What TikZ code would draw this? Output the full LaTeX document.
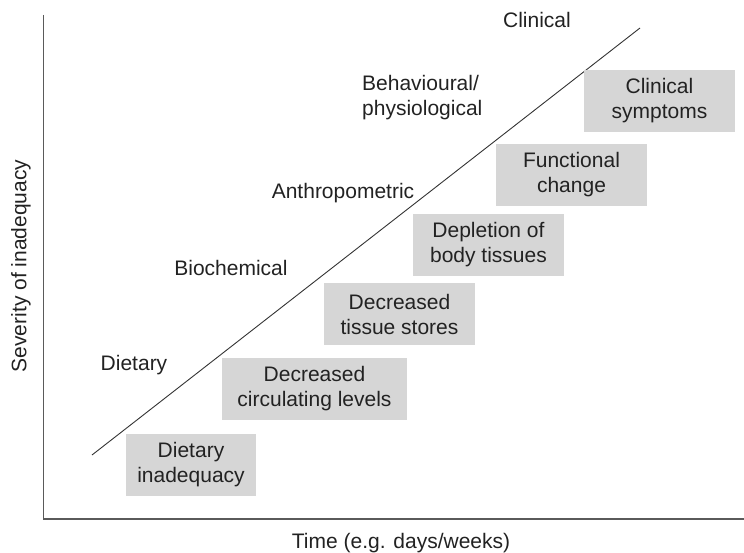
\documentclass[tikz,border=0pt]{standalone}
\usepackage{fontspec}
\setmainfont{Liberation Sans}
\definecolor{txt}{HTML}{222222}
\definecolor{boxfill}{HTML}{D6D6D6}
\definecolor{axis}{HTML}{5A5A5A}
\definecolor{diag}{HTML}{333333}
\tikzset{
  stage/.style={fill=boxfill, minimum height=62pt, inner sep=0pt, align=center, text=txt, font=\fontsize{21}{25}\selectfont},
  lbl/.style={text=txt, inner sep=0pt, font=\fontsize{21}{25}\selectfont},
}
\begin{document}
\begin{tikzpicture}[x=1pt,y=-1pt]
\useasboundingbox (0,0) rectangle (744,553);
% axes
\coordinate (ytop) at (43.5,15);
\coordinate (orig) at (43.5,519);
\coordinate (xend) at (744,519);
\draw[axis, line width=1.2pt] (ytop) -- (orig) -- (xend);
% diagonal
\coordinate (d1) at (92,455);
\coordinate (d2) at (640,28);
\draw[diag, line width=0.9pt] (d1) -- (d2);
% boxes
\node[stage, minimum width=130pt] (b1) at (191,465) {Dietary\\inadequacy};
\node[stage, minimum width=185pt] (b2) at (314.5,389) {Decreased\\circulating levels};
\node[stage, minimum width=151pt] (b3) at (399.5,314) {Decreased\\tissue stores};
\node[stage, minimum width=151pt] (b4) at (488.5,245) {Depletion of\\body tissues};
\node[stage, minimum width=151pt] (b5) at (571.5,175) {Functional\\change};
\node[stage, minimum width=151pt] (b6) at (659.5,101) {Clinical\\symptoms};
% labels
\node[lbl] (l1) at (134,365) {Dietary};
\node[lbl] (l2) at (231,268) {Biochemical};
\node[lbl] (l3) at (343,193) {Anthropometric};
\node[lbl, align=left, anchor=west] (l4) at (362,98) {Behavioural/\\physiological};
\node[lbl] (l5) at (537,20) {Clinical};
% axis titles
\node[lbl, rotate=90] (ya) at (21,266) {Severity of inadequacy};
\node[lbl] (xa) at (401,543) {Time (e.g. days/weeks)};
\end{tikzpicture}
\end{document}
